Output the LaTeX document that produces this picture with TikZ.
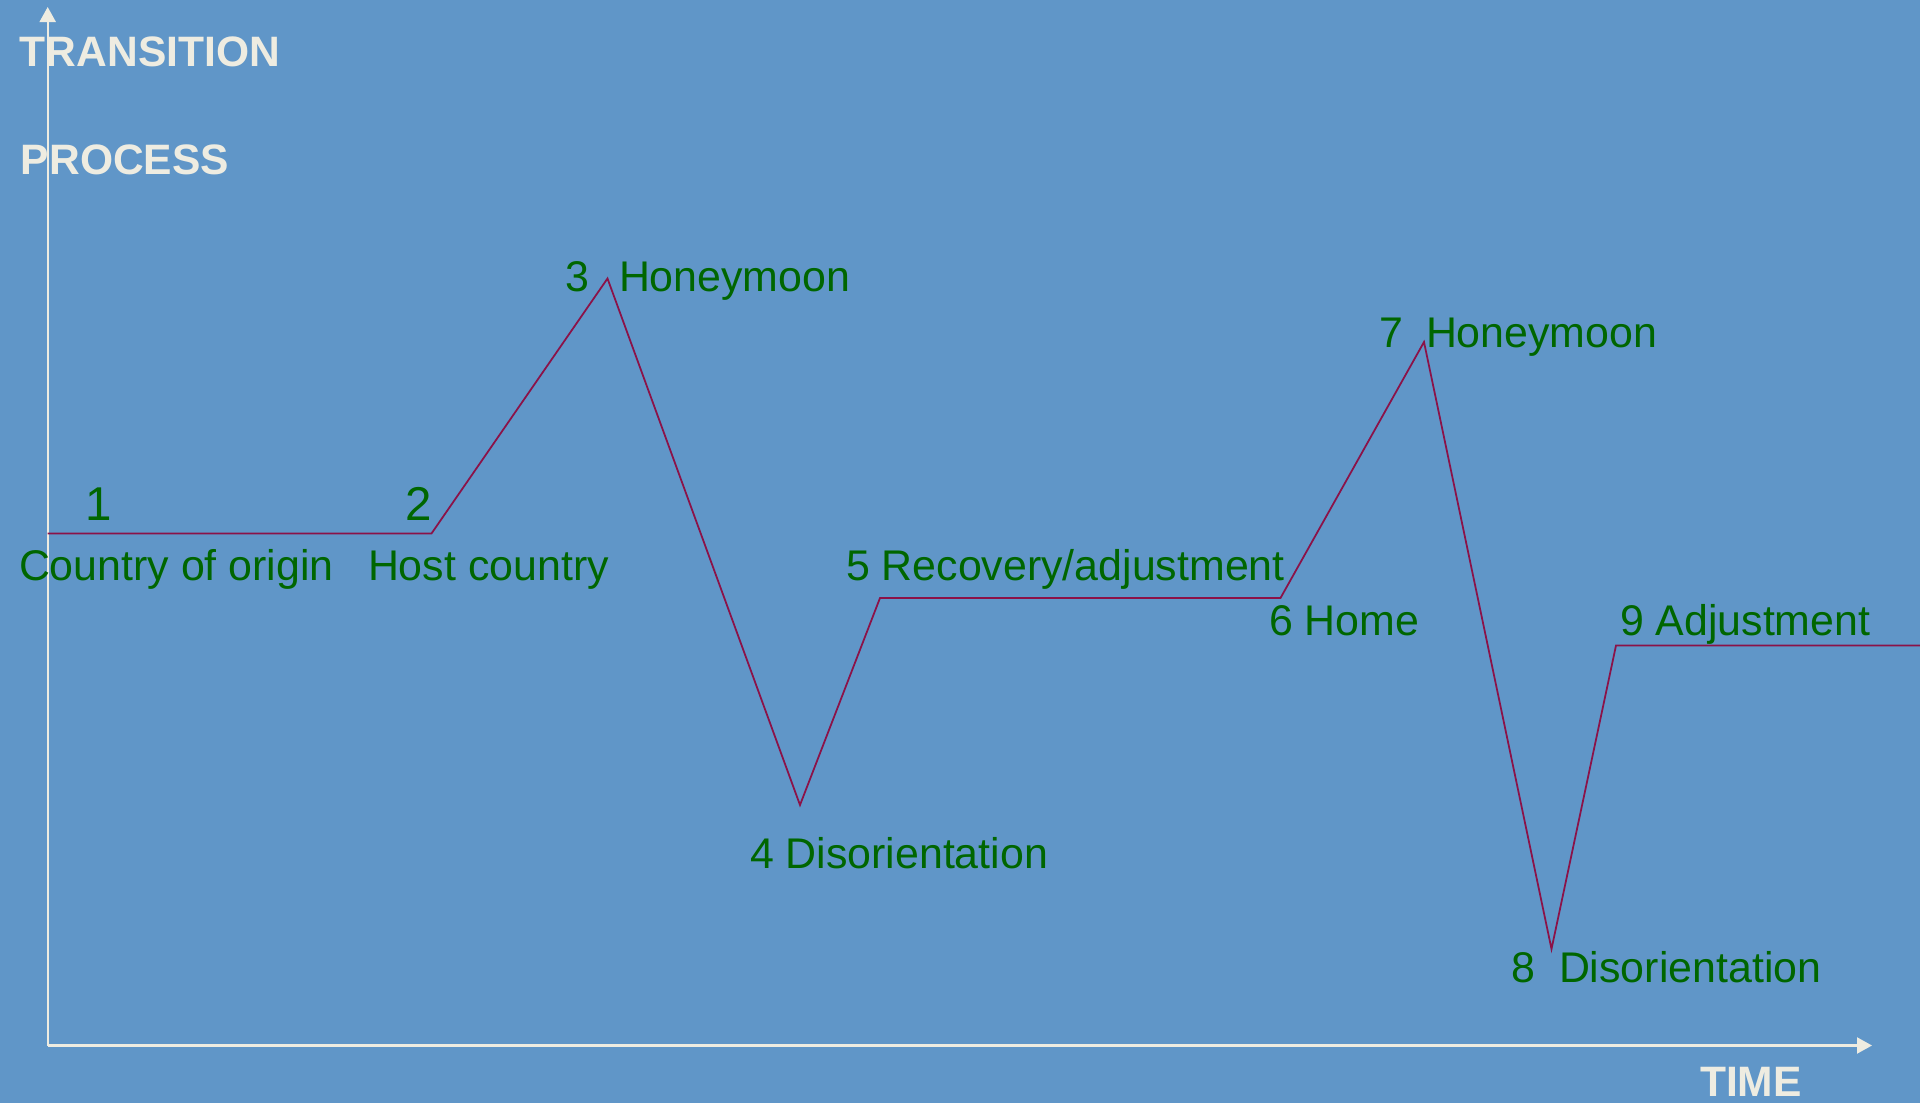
\documentclass[tikz,border=0pt]{standalone}
\usepackage{fontspec}
\setmainfont{Liberation Sans}
\usepackage{tikz}
\usetikzlibrary{arrows.meta}

\definecolor{bgblue}{HTML}{6096C8}
\definecolor{cream}{HTML}{EEECE1}
\definecolor{labelgreen}{HTML}{006600}
\definecolor{curvered}{HTML}{8B1248}

\begin{document}
\begin{tikzpicture}[x=0.01cm, y=-0.01cm,
    axis/.style={cream, line width=0.6pt, -{Triangle[length=0.15cm, width=0.16cm]}},
    curve/.style={curvered, line width=0.5pt, line join=miter},
    lbl/.style={labelgreen, anchor=base west, inner sep=0pt, outer sep=0pt,
      font=\fontsize{12.2}{14}\selectfont},
    biglbl/.style={lbl, font=\fontsize{13.5}{16}\selectfont},
    hdr/.style={cream, anchor=base west, inner sep=0pt, outer sep=0pt,
      font=\fontsize{12.1}{14}\selectfont\bfseries}]
    \fill[bgblue] (0,0) rectangle (1920,1103);
    \useasboundingbox (0,0) rectangle (1920,1103);

    % axes
    \coordinate (o) at (47.7,1045.5);
    \coordinate (ytop) at (47.7,7);
    \coordinate (xend) at (1872,1045.5);
    \draw[axis] (o) -- (ytop);
    \draw[axis] (o) -- (xend);
    \node[hdr] (trans) at (20,66.5) {TRANSITION};
    \node[hdr] (proc) at (21,174) {PROCESS};
    \node[hdr] (time) at (1700,1096.5) {TIME};

    % the curve
    \coordinate (p1) at (47.7,533.5);
    \coordinate (p2) at (431.5,533.5);
    \coordinate (p3) at (607.5,278.5);
    \coordinate (p4) at (800,805);
    \coordinate (p5) at (880,598);
    \coordinate (p6) at (1280.5,598);
    \coordinate (p7) at (1424,342);
    \coordinate (p8) at (1551.5,949);
    \coordinate (p9) at (1616,645.5);
    \coordinate (p10) at (1920,645.5);
    \draw[curve] (p1) -- (p2) -- (p3) -- (p4) -- (p5) -- (p6) -- (p7) -- (p8) -- (p9) -- (p10);

    % stages
    \node[biglbl] (n1) at (85,520) {1};
    \node[lbl] (origin) at (19,580) {Country of origin};
    \node[biglbl] (n2) at (405,520) {2};
    \node[lbl] (host) at (368,580) {Host country};
    \node[lbl] (n3) at (565,291) {3};
    \node[lbl] (honey1) at (619,291) {Honeymoon};
    \node[lbl] (disor1) at (750,868) {4 Disorientation};
    \node[lbl] (recov) at (846,580) {5 Recovery/adjustment};
    \node[lbl] (home) at (1269,635) {6 Home};
    \node[lbl] (n7) at (1379,347) {7};
    \node[lbl] (honey2) at (1426,347) {Honeymoon};
    \node[lbl] (n8) at (1511,982) {8};
    \node[lbl] (disor2) at (1559,982) {Disorientation};
    \node[lbl] (adjust) at (1620,635) {9 Adjustment};
\end{tikzpicture}
\end{document}
